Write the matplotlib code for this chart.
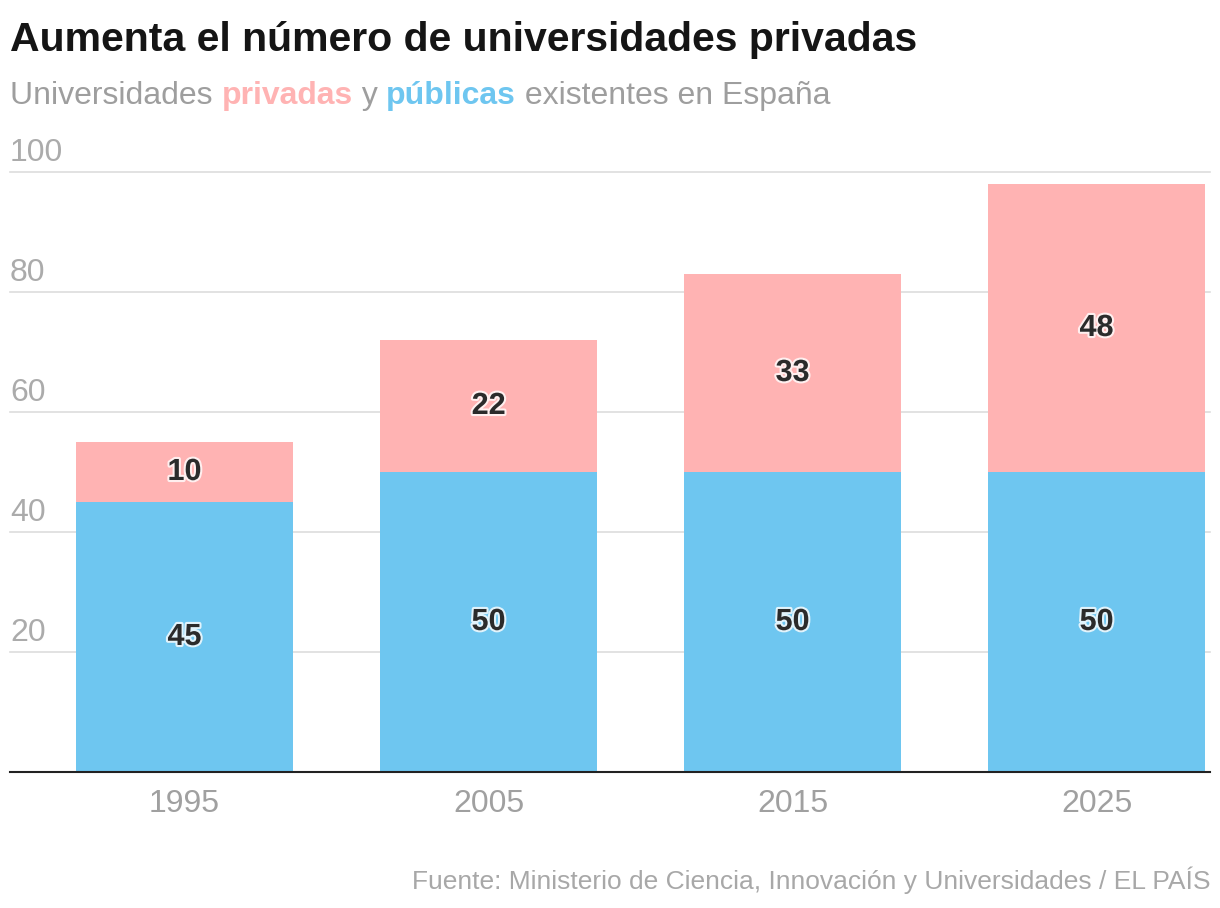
import matplotlib.pyplot as plt
import matplotlib.patheffects as pe
import numpy as np

plt.rcParams['font.family'] = ['Liberation Sans', 'DejaVu Sans']

years = ['1995', '2005', '2015', '2025']
publicas = [45, 50, 50, 50]
privadas = [10, 22, 33, 48]
yticks = [20, 40, 60, 80, 100]

c_pub = '#6ec6f0'
c_priv = '#ffb3b3'
grey = '#9e9e9e'

fig = plt.figure(figsize=(12.2, 9.08), dpi=100)
ax = fig.add_axes([10 / 1220, 1 - 772 / 908, 1200 / 1220, 600 / 908])

x = np.arange(len(years))
w = 0.714
ax.bar(x, publicas, width=w, color=c_pub, zorder=2)
ax.bar(x, privadas, width=w, bottom=publicas, color=c_priv, zorder=2)

glow = [pe.withStroke(linewidth=3, foreground='white', alpha=0.8)]
for i in range(len(years)):
    ax.text(x[i], publicas[i] / 2, str(publicas[i]), ha='center', va='center',
            fontsize=22, fontweight='bold', color='#2b2b2b', path_effects=glow, zorder=3)
    ax.text(x[i], publicas[i] + privadas[i] / 2, str(privadas[i]), ha='center', va='center',
            fontsize=22, fontweight='bold', color='#2b2b2b', path_effects=glow, zorder=3)

ax.set_xlim(-0.574, 3.373)
ax.set_ylim(0, 100)
for v in yticks:
    ax.axhline(v, color='#dddddd', lw=1.2, zorder=1, clip_on=False)
    ax.annotate(str(v), xy=(0, v), xycoords=('axes fraction', 'data'),
                xytext=(0, 3), textcoords='offset points', ha='left', va='bottom',
                fontsize=23, color='#ababab')
ax.axhline(0, color='#222222', lw=1.5, zorder=4, clip_on=False)

ax.set_xticks(x)
ax.set_xticklabels(years, fontsize=23, color='#a0a0a0')
ax.tick_params(axis='x', length=0, pad=12)
ax.set_yticks([])
for s in ax.spines.values():
    s.set_visible(False)

fig.text(10 / 1220, 1 - 40 / 908, 'Aumenta el número de universidades privadas',
         fontsize=29.5, fontweight='bold', color='#151515', va='center', ha='left')

# subtitle with coloured words
parts = [('Universidades ', grey, 'normal'), ('privadas', c_priv, 'bold'), (' y ', grey, 'normal'),
         ('públicas', c_pub, 'bold'), (' existentes en España', grey, 'normal')]
r = fig.canvas.get_renderer()
xpos = 10 / 1220
for txt, col, wt in parts:
    t = fig.text(xpos, 1 - 96 / 908, txt, fontsize=23, color=col, fontweight=wt,
                 va='center', ha='left')
    bb = t.get_window_extent(renderer=r)
    xpos += bb.width / fig.bbox.width

fig.text(1210 / 1220, 1 - 880 / 908,
         'Fuente: Ministerio de Ciencia, Innovación y Universidades / EL PAÍS',
         fontsize=19, color='#a8a8a8', ha='right', va='center')

fig.savefig('out.png', dpi=100)
